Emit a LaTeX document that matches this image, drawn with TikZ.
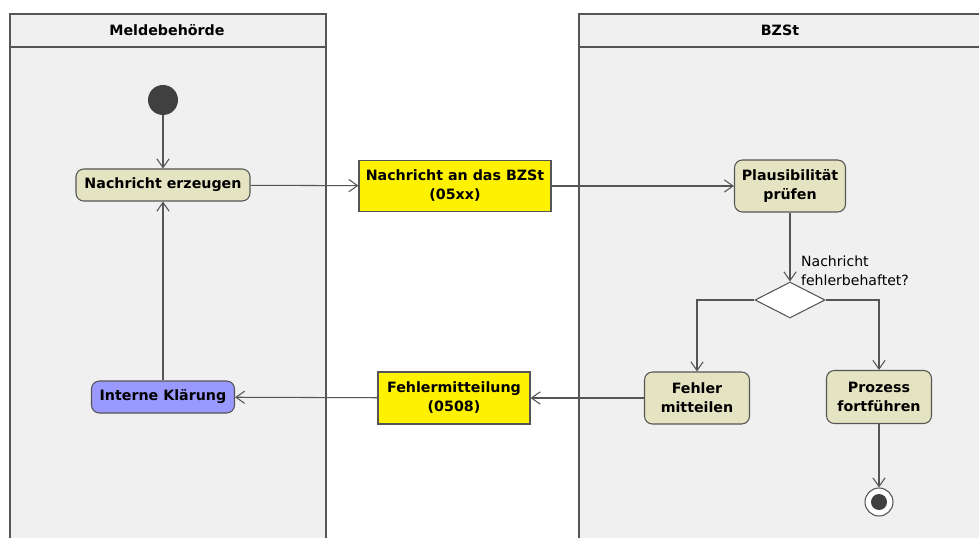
\documentclass[tikz,border=0pt]{standalone}
\usepackage{fontspec}
\setmainfont{DejaVu Sans}
\usetikzlibrary{positioning, arrows.meta, shapes.geometric}

\definecolor{lanegray}{HTML}{F0F0F0}
\definecolor{linegray}{HTML}{555555}
\definecolor{actfill}{HTML}{E5E4C2}
\definecolor{klaerfill}{HTML}{9999FF}
\definecolor{dotgray}{HTML}{404040}

\begin{document}
\begin{tikzpicture}[x=0.2mm, y=-0.2mm,
  every node/.style = {font=\fontsize{8.1}{10.8}\selectfont\bfseries},
  act/.style   = {draw=linegray, fill=actfill, rounded corners=4.5pt,
                  semithick, align=center, inner sep=1pt},
  msg/.style   = {draw=linegray, fill=yellow, semithick, align=center,
                  inner sep=1pt},
  lane/.style  = {draw=linegray, fill=lanegray, line width=1.4pt},
  note/.style  = {font=\fontsize{8}{10.8}\selectfont, align=left,
                  inner sep=1pt},
  arr/.style   = {-{Straight Barb[length=5pt,width=7pt]}, linegray, semithick},
  flow/.style  = {linegray, semithick}
]

\clip (0,0) rectangle (979,538);
\fill[white] (0,0) rectangle (979,538);

% swimlanes
\draw[lane] (10,47) rectangle (326,560);
\draw[lane] (10,14) rectangle (326,47);
\draw[lane] (579,47) rectangle (1000,560);
\draw[lane] (579,14) rectangle (1000,47);
\node (melde) at (167,30) {Meldebehörde};
\node (bzst)  at (780,30) {BZSt};

% activities
\node[circle, fill=dotgray, minimum size=0.6cm, inner sep=0] (start) at (163,100) {};
\node[act, minimum width=3.48cm, minimum height=0.64cm] (erz)  at (163,185) {Nachricht erzeugen};
\node[msg, minimum width=3.84cm, minimum height=1.02cm] (nach) at (455,186) {Nachricht an das BZSt\\(05xx)};
\node[act, minimum width=2.22cm, minimum height=1.04cm] (plaus) at (790,186) {Plausibilität\\prüfen};
\node[diamond, draw=linegray, fill=white, semithick, aspect=2,
      minimum width=1.4cm, minimum height=0.72cm, inner sep=0] (dec) at (790,300) {};
\node[note, anchor=west] (frage) at (799,271) {Nachricht\\fehlerbehaftet?};
\node[act, minimum width=2.1cm, minimum height=1.04cm] (fehl) at (697,398) {Fehler\\mitteilen};
\node[act, minimum width=2.1cm, minimum height=1.06cm] (proz) at (879,397) {Prozess\\fortführen};
\node[circle, draw=linegray, fill=white, semithick, minimum size=0.56cm, inner sep=0,
      path picture={\fill[dotgray] (path picture bounding box.center) circle (0.16cm);}] (ende) at (879,502) {};
\node[msg, minimum width=3.04cm, minimum height=1.04cm] (fmit) at (454,398) {Fehlermitteilung\\(0508)};
\node[act, fill=klaerfill, minimum width=2.86cm, minimum height=0.64cm] (klaer) at (163,397) {Interne Klärung};

% flows
\draw[arr] (start) -- (erz);
\draw[arr] (erz) -- (nach);
\draw[arr] (nach) -- (plaus);
\draw[arr] (plaus) -- (dec);
\draw[arr] (dec.west) -| (fehl.north);
\draw[arr] (dec.east) -| (proz.north);
\draw[arr] (proz) -- (ende);
\draw[arr] (fehl) -- (fmit);
\draw[arr] (fmit) -- (klaer);
\draw[arr] (klaer) -- (erz);

\end{tikzpicture}
\end{document}
